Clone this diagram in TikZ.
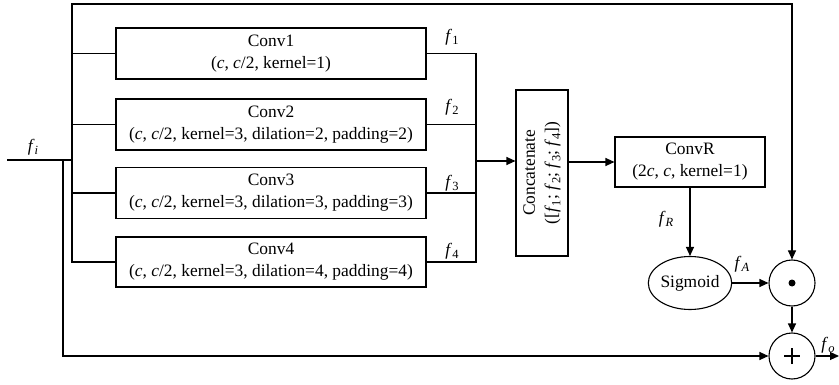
\documentclass[tikz,border=0pt]{standalone}
\usepackage{fontspec}
\setmainfont{Liberation Serif}
\usetikzlibrary{arrows.meta,shapes.geometric}
\newcommand\subx[1]{\raisebox{-0.2em}{\fontsize{12.5}{12.5}\selectfont #1}}
\newcommand\fsub[1]{\textit{f}\subx{#1}}
\begin{document}
\begin{tikzpicture}[x=1pt,y=-1pt,
  font=\fontsize{17.4}{22}\selectfont,
  conv/.style={draw, line width=1.8pt, minimum width=310pt, minimum height=51pt, align=center, inner sep=0pt},
  box/.style={draw, line width=1.1pt, align=center, inner sep=0pt},
  wire/.style={line width=1.1pt},
  arr/.style={line width=1.1pt, -{Triangle[length=9pt,width=8pt]}},
  lbl/.style={inner sep=0pt}]
\useasboundingbox (0,0) rectangle (839,385);
% boxes
\node[conv] (c1) at (271,53.5) {Conv1\\(\textit{c}, \textit{c}/2, kernel=1)};
\node[conv] (c2) at (271,124.5) {Conv2\\(\textit{c}, \textit{c}/2, kernel=3, dilation=2, padding=2)};
\node[conv] (c3) at (271,193) {Conv3\\(\textit{c}, \textit{c}/2, kernel=3, dilation=3, padding=3)};
\node[conv, minimum height=50pt] (c4) at (271,262) {Conv4\\(\textit{c}, \textit{c}/2, kernel=3, dilation=4, padding=4)};
\node[box, rotate=90, minimum width=166pt, minimum height=52pt] (cat) at (542,173) {Concatenate\\([\fsub{1}; \fsub{2}; \fsub{3}; \fsub{4}])};
\node[box, minimum width=150pt, minimum height=50pt] (convr) at (690,162) {ConvR\\(2\textit{c}, \textit{c}, kernel=1)};
\node[draw, ellipse, line width=1.1pt, minimum width=80pt, minimum height=53pt, inner sep=0pt] (sig) at (690,283) {Sigmoid};
\node[draw, circle, line width=1.1pt, minimum size=46pt, inner sep=0pt] (dot) at (792,283) {};
\node[draw, circle, line width=1.1pt, minimum size=46pt, inner sep=0pt] (plus) at (792,356) {};
\fill (dot.center) circle (3.5pt);
\draw[line width=1.6pt] ([xshift=-8pt]plus.center) -- ([xshift=8pt]plus.center);
\draw[line width=1.6pt] ([yshift=-8pt]plus.center) -- ([yshift=8pt]plus.center);
% coordinates
\coordinate (in) at (7,160);
\coordinate (split) at (72,160);
\coordinate (split2) at (63,160);
\coordinate (m) at (476,161);
\coordinate (out) at (839,356);
% wires
\draw[wire] (in) -- (split);
\draw[arr] (split) -- (72,4) -| (dot.north);
\draw[wire] (split) -- (split |- c4.west) -- (c4.west);
\draw[wire] (split |- c1.west) -- (c1.west);
\draw[wire] (split |- c2.west) -- (c2.west);
\draw[wire] (split |- c3.west) -- (c3.west);
\draw[arr] (split2) |- (plus.west);
\draw[wire] (c1.east) -- (c1.east -| m) -- (c4.east -| m) -- (c4.east);
\draw[wire] (c2.east) -- (c2.east -| m);
\draw[wire] (c3.east) -- (c3.east -| m);
\draw[arr] (m) -- (cat.north |- m);
\draw[arr] (cat.south |- convr.west) -- (convr.west);
\draw[arr] (convr.south) -- (sig.north);
\draw[arr] (sig.east) -- (dot.west);
\draw[arr] (dot.south) -- (plus.north);
\draw[arr] (plus.east) -- (out);
% labels
\node[lbl] (li) at (33,147) {\textit{f}\subx{\textit{i}}};
\node[lbl] (l1) at (452,37) {\fsub{1}};
\node[lbl] (l2) at (452,107) {\fsub{2}};
\node[lbl] (l3) at (452,183) {\fsub{3}};
\node[lbl] (l4) at (452,251) {\fsub{4}};
\node[lbl] (lr) at (666,219) {\textit{f}\subx{\textit{R}}};
\node[lbl] (la) at (742,264) {\textit{f}\subx{\textit{A}}};
\node[lbl] (lo) at (828,345) {\textit{f}\subx{\textit{o}}};
\end{tikzpicture}
\end{document}
